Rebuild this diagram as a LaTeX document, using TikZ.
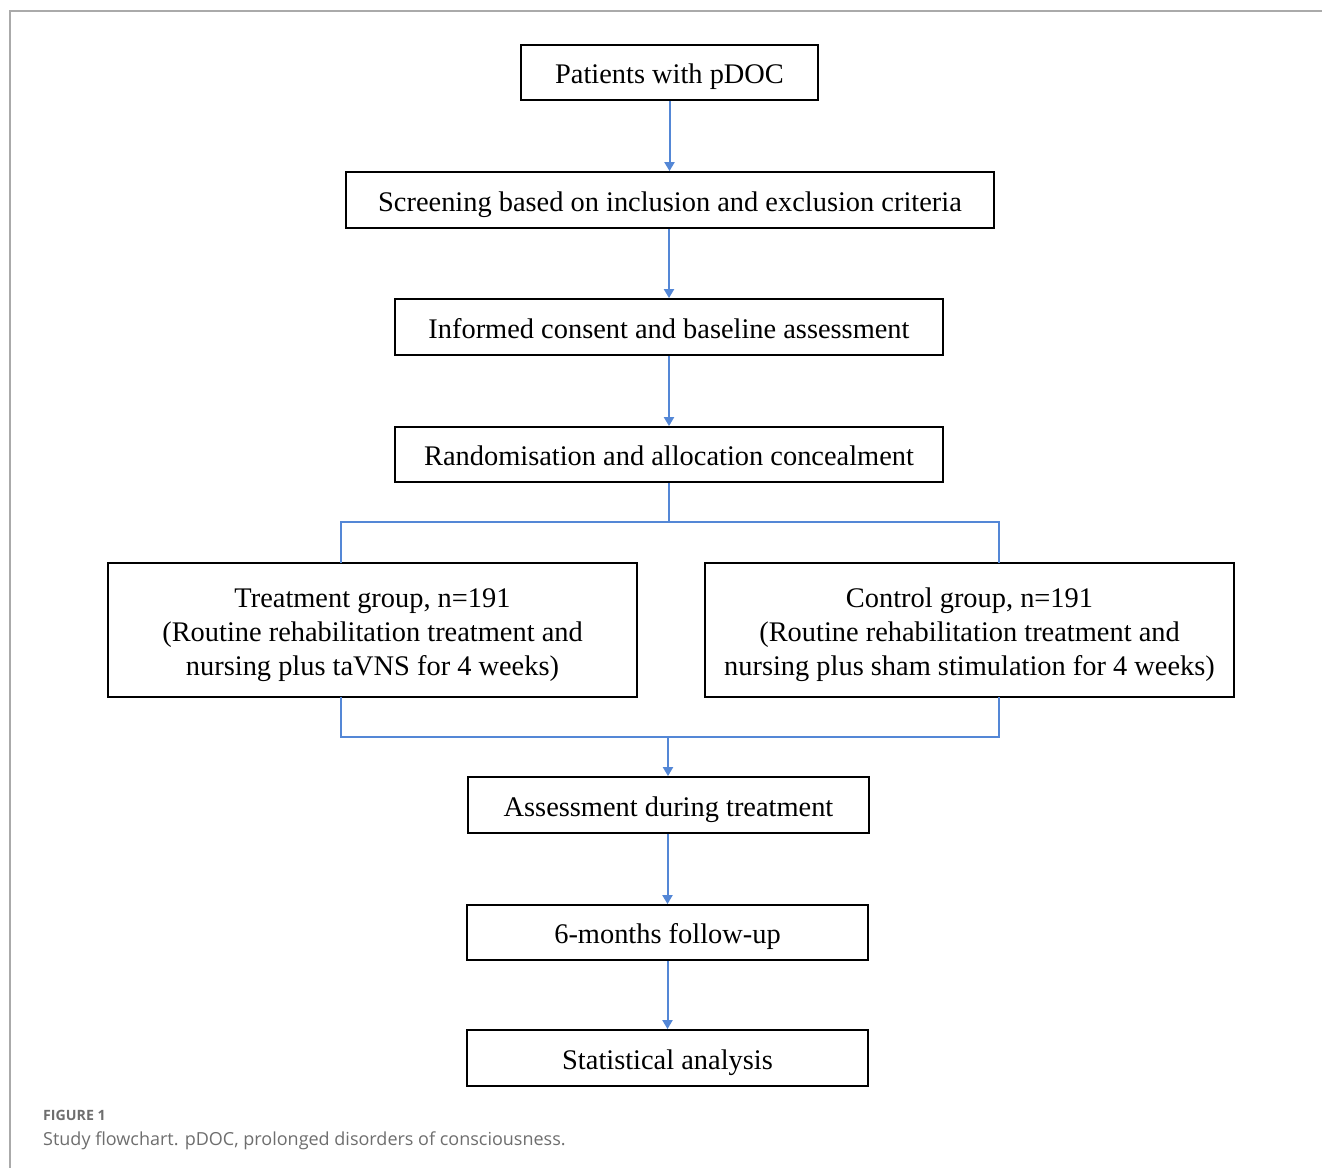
\documentclass[tikz,border=0pt]{standalone}
\usepackage{fontspec}
\setmainfont{Liberation Serif}
\newfontfamily\capfont{Open Sans}
\usetikzlibrary{arrows.meta}
\definecolor{linkblue}{RGB}{84,135,214}
\definecolor{framegray}{RGB}{170,170,170}
\definecolor{capgray}{RGB}{110,110,110}
\tikzset{
  box/.style={draw=black, line width=1.8pt, inner sep=0pt, align=center,
    font=\fontsize{28.4}{34}\selectfont},
  onebox/.style={box, text height=28pt, text depth=6pt},
  threebox/.style={box, text height=96pt, text depth=6pt},
  link/.style={draw=linkblue, line width=2pt},
  arr/.style={link, -{Triangle[width=10pt,length=9pt]}},
}
\begin{document}
\begin{tikzpicture}[x=1pt,y=-1pt]
\useasboundingbox (0,0) rectangle (1322,1168);
\draw[framegray, line width=2pt] (1322,11) -- (9.5,11) -- (9.5,1168);

\node[onebox, minimum width=297pt, minimum height=55pt] (p) at (669.5,72.5) {Patients with pDOC};
\node[onebox, minimum width=648pt, minimum height=56pt] (s) at (670,200) {Screening based on inclusion and exclusion criteria};
\node[onebox, minimum width=548pt, minimum height=56pt] (i) at (669,327) {Informed consent and baseline assessment};
\node[onebox, minimum width=548pt, minimum height=55pt] (r) at (669,454.5) {Randomisation and allocation concealment};
\node[threebox, minimum width=529pt, minimum height=134pt] (t) at (372.5,630) {Treatment group, n=191\\(Routine rehabilitation treatment and\\nursing plus taVNS for 4 weeks)};
\node[threebox, minimum width=529pt, minimum height=134pt] (c) at (969.5,630) {Control group, n=191\\(Routine rehabilitation treatment and\\nursing plus sham stimulation for 4 weeks)};
\node[onebox, minimum width=401pt, minimum height=56pt] (a) at (668.5,805) {Assessment during treatment};
\node[onebox, minimum width=401pt, minimum height=55pt] (f) at (667.5,932.5) {6-months follow-up};
\node[onebox, minimum width=401pt, minimum height=56pt] (st) at (667.5,1058) {Statistical analysis};

\draw[arr] (p.south) -- (p.south |- s.north);
\draw[arr] (s.south -| i.north) -- (i.north);
\draw[arr] (i.south) -- (r.north);

\coordinate (split) at (669,522);
\draw[link] (r.south) -- (split);
\draw[link] (341,563) |- (split) -| (999,563);

\coordinate (join) at (668,737);
\draw[link] (341,697) |- (join) -| (999,697);
\draw[arr] (join) -- (join |- a.north);
\draw[arr] (a.south -| f.north) -- (f.north);
\draw[arr] (f.south) -- (st.north);

\node[anchor=base west, inner sep=0pt, text=capgray, font=\capfont\fontsize{14.2}{16}\selectfont\bfseries] (fig) at (43,1120) {FIGURE 1};
\node[anchor=base west, inner sep=0pt, text=capgray, font=\capfont\fontsize{18}{22}\selectfont] (cap) at (43,1145) {Study flowchart. pDOC, prolonged disorders of consciousness.};
\end{tikzpicture}
\end{document}
